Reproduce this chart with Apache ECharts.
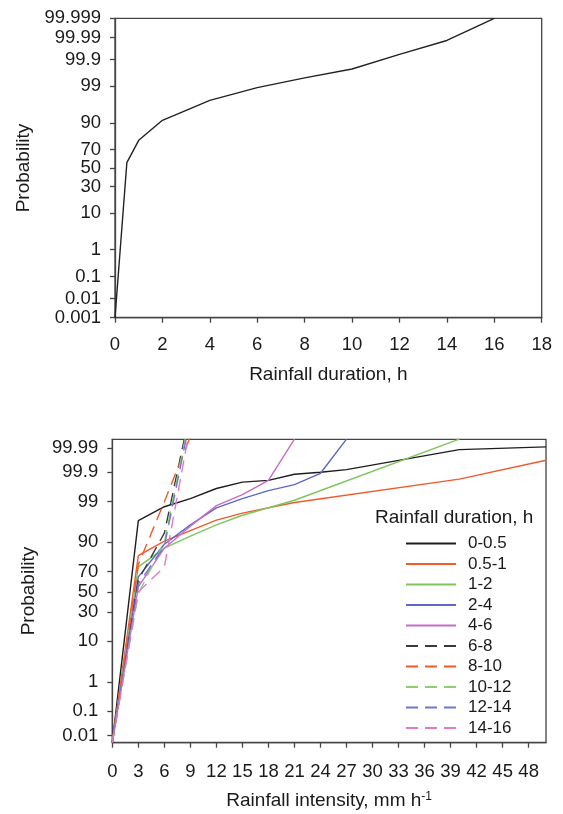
<!DOCTYPE html>
<html lang="en">
<head>
    <meta charset="utf-8">
    <title>Rainfall probability</title>
    <script src="https://cdn.jsdelivr.net/npm/echarts@6/dist/echarts.min.js"></script>
    <style>
        html, body { margin: 0; padding: 0; background: #fff; }
        #main { width: 563px; height: 814px; }
    </style>
</head>
<body>
<div id="main"></div>
<script type="text/javascript">
    // tick labels of the probability (%) axis
    var probLabels = ['0.001', '0.01', '0.1', '1', '10', '30', '50', '70', '90', '99', '99.9', '99.99', '99.999'];
    var probLabels2 = ['0.01', '0.1', '1', '10', '30', '50', '70', '90', '99', '99.9', '99.99'];
    var durTicks = [0, 2, 4, 6, 8, 10, 12, 14, 16, 18];
    var intTicks = [0, 3, 6, 9, 12, 15, 18, 21, 24, 27, 30, 33, 36, 39, 42, 45, 48];

    // top: [duration h, probability %]
    var durationCurve = [[0, 0.001], [0.5, 56], [1, 78.5], [2, 91.3], [4, 97.3], [6, 98.9], [8, 99.49],
                         [10, 99.76], [12, 99.94], [14, 99.986], [16, 99.999]];

    // bottom: [intensity mm/h, probability %] per rainfall duration class
    var names = ['0-0.5', '0.5-1', '1-2', '2-4', '4-6', '6-8', '8-10', '10-12', '12-14', '14-16'];
    var d_0_05  = [[0, 0.005], [3, 96.7], [6, 98.6], [9, 99.2], [12, 99.62], [15, 99.77], [18, 99.8], [21, 99.88], [24, 99.9], [27, 99.92], [40, 99.988], [50, 99.991]];
    var d_05_1  = [[0, 0.005], [3, 82.5], [6, 90.5], [9, 94.3], [12, 96.8], [15, 97.9], [21, 98.95], [40, 99.82], [50, 99.966]];
    var d_1_2   = [[0, 0.005], [3, 74], [6, 87], [9, 92.5], [12, 95.8], [15, 97.6], [18, 98.5], [21, 99.1], [40, 99.996]];
    var d_2_4   = [[0, 0.005], [3, 65], [6, 89], [9, 95.8], [12, 98.5], [15, 99.2], [18, 99.55], [21, 99.72], [24, 99.89], [27, 99.996]];
    var d_4_6   = [[0, 0.005], [3, 55], [6, 87], [9, 95.5], [12, 98.7], [15, 99.4], [18, 99.8], [21, 99.996]];
    var d_6_8   = [[0, 0.005], [3, 62], [6, 93.5], [8.3, 99.996]];
    var d_8_10  = [[0, 0.005], [3, 76], [6, 99], [9, 99.997]];
    var d_10_12 = [[0, 0.005], [3, 48], [6, 90], [8.4, 99.996]];
    var d_12_14 = [[0, 0.005], [3, 58], [6, 88], [8.5, 99.996]];
    var d_14_16 = [[0, 0.005], [3, 50], [6, 74], [8.7, 99.996]];
    var bottomData = [d_0_05, d_05_1, d_1_2, d_2_4, d_4_6, d_6_8, d_8_10, d_10_12, d_12_14, d_14_16];
    var colors = ['#1e1e1e', '#f2592b', '#7cc65a', '#5a68c6', '#c86cc6', '#3a3a3a', '#f2592b', '#8ccf6c', '#6a78d0', '#e07ac8'];

    // inverse normal cdf (Acklam)
    function probit(p) {
        var a = [-3.969683028665376e+01, 2.209460984245205e+02, -2.759285104469687e+02, 1.383577518672690e+02, -3.066479806614716e+01, 2.506628277459239e+00];
        var b = [-5.447609879822406e+01, 1.615858368580409e+02, -1.556989798598866e+02, 6.680131188771972e+01, -1.328068155288572e+01];
        var c = [-7.784894002430293e-03, -3.223964580411365e-01, -2.400758277161838e+00, -2.549732539343734e+00, 4.374664141464968e+00, 2.938163982698783e+00];
        var d = [7.784695709041462e-03, 3.224671290700398e-01, 2.445134137142996e+00, 3.754408661907416e+00];
        var pl = 0.02425, q, r;
        if (p < pl) {
            q = Math.sqrt(-2 * Math.log(p));
            return (((((c[0]*q+c[1])*q+c[2])*q+c[3])*q+c[4])*q+c[5]) / ((((d[0]*q+d[1])*q+d[2])*q+d[3])*q+1);
        }
        if (p <= 1 - pl) {
            q = p - 0.5; r = q * q;
            return (((((a[0]*r+a[1])*r+a[2])*r+a[3])*r+a[4])*r+a[5])*q / (((((b[0]*r+b[1])*r+b[2])*r+b[3])*r+b[4])*r+1);
        }
        q = Math.sqrt(-2 * Math.log(1 - p));
        return -(((((c[0]*q+c[1])*q+c[2])*q+c[3])*q+c[4])*q+c[5]) / ((((d[0]*q+d[1])*q+d[2])*q+d[3])*q+1);
    }
    function z(pct) { return probit(pct / 100); }
    function toZ(arr) { return arr.map(function (pt) { return [pt[0], z(pt[1])]; }); }

    var zTicks = probLabels.map(function (s) { return z(parseFloat(s)); });
    var zTicks2 = probLabels2.map(function (s) { return z(parseFloat(s)); });
    function probFormatter(labels, ticks) {
        return function (v) {
            for (var i = 0; i < ticks.length; i++) {
                if (Math.abs(ticks[i] - v) < 1e-4) return labels[i];
            }
            return '';
        };
    }

    var FONT = 'Liberation Sans, Arial, sans-serif';
    var TXT = '#1a1a1a';
    var AX = '#444';

    function yAxisOpt(gi, min, max, labels, ticks, gap) {
        return {
            type: 'value', gridIndex: gi, min: min, max: max,
            name: 'Probability', nameLocation: 'middle', nameGap: gap,
            nameTextStyle: { fontSize: 19, color: TXT, fontFamily: FONT },
            axisLine: { show: true, onZero: false, lineStyle: { color: AX, width: 1.3 } },
            axisTick: { show: true, length: 5, customValues: ticks, lineStyle: { color: AX, width: 1.3 } },
            axisLabel: { customValues: ticks, formatter: probFormatter(labels, ticks), margin: 14,
                         fontSize: 18.5, color: TXT, fontFamily: FONT },
            splitLine: { show: false }
        };
    }
    function xAxisOpt(gi, max, ticks, name, gap, margin) {
        return {
            type: 'value', gridIndex: gi, min: 0, max: max,
            name: name, nameLocation: 'middle', nameGap: gap,
            nameTextStyle: { fontSize: 19, lineHeight: 20, color: TXT, fontFamily: FONT,
                             rich: { sup: { fontSize: 12, lineHeight: 12, verticalAlign: 'top', color: TXT, fontFamily: FONT } } },
            axisLine: { show: true, onZero: false, lineStyle: { color: AX, width: 1.3 } },
            axisTick: { show: true, length: 5, customValues: ticks, lineStyle: { color: AX, width: 1.3 } },
            axisLabel: { customValues: ticks, margin: margin, fontSize: 18.5, color: TXT, fontFamily: FONT },
            splitLine: { show: false }
        };
    }

    var series = [{
        type: 'line', xAxisIndex: 0, yAxisIndex: 0, data: toZ(durationCurve),
        symbol: 'none', lineStyle: { color: '#222', width: 1.4 }
    }];
    for (var i = 0; i < names.length; i++) {
        series.push({
            name: names[i], type: 'line', xAxisIndex: 1, yAxisIndex: 1,
            data: toZ(bottomData[i]), symbol: 'none', clip: true,
            itemStyle: { color: colors[i] },
            lineStyle: { color: colors[i], width: 1.4, type: i < 5 ? 'solid' : [12, 7] }
        });
    }

    var mainChart = echarts.init(document.getElementById('main'));
    var option = {
        animation: false,
        backgroundColor: '#fff',
        textStyle: { fontFamily: FONT },
        title: {
            text: 'Rainfall duration, h', left: 370, top: 503,
            textStyle: { fontSize: 19, fontWeight: 'normal', color: TXT, fontFamily: FONT }
        },
        legend: {
            data: names, orient: 'vertical', left: 400, top: 530,
            itemWidth: 50, itemHeight: 14, itemGap: 3.5,
            itemStyle: { opacity: 0 },
            textStyle: { fontSize: 17, color: TXT, fontFamily: FONT, padding: [0, 0, 0, 7] }
        },
        grid: [
            { left: 115, top: 18.3, width: 426.7, height: 299.4, show: true, borderColor: AX, borderWidth: 1.3,
              outerBoundsMode: 'none', containLabel: false },
            { left: 112.3, top: 439.3, width: 433.7, height: 303.4, show: true, borderColor: AX, borderWidth: 1.3,
              outerBoundsMode: 'none', containLabel: false }
        ],
        xAxis: [
            xAxisOpt(0, 18, durTicks, 'Rainfall duration, h', 47, 18),
            xAxisOpt(1, 50, intTicks, 'Rainfall intensity, mm h{sup|-1}', 48, 20)
        ],
        yAxis: [
            yAxisOpt(0, z(0.001), z(99.999), probLabels, zTicks, 77),
            yAxisOpt(1, -3.90, 3.94, probLabels2, zTicks2, 74)
        ],
        series: series
    };
    mainChart.setOption(option);
</script>
</body>
</html>
